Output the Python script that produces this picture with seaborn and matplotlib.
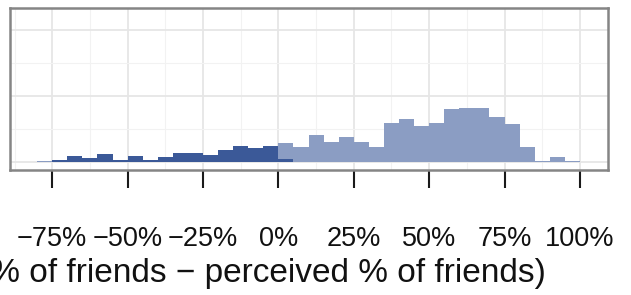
import numpy as np
import pandas as pd
import seaborn as sns
import matplotlib.pyplot as plt
from matplotlib.ticker import MultipleLocator, FixedLocator

# bin edges every 5 percentage points
bin_edges = list(range(-80, 105, 5))

# share of respondents (%) per bin, dark = actual below perceived
dark_bins = list(range(-75, 5, 5))
dark_pct = [0.3, 0.9, 0.6, 1.2, 0.3, 0.95, 0.3, 0.75, 1.35, 1.35, 1.0, 1.75, 2.4, 2.2, 2.4, 0.45]

# light = actual above perceived
light_bins = [-80] + list(range(0, 100, 5))
light_pct = [0.15, 2.4, 2.3, 4.1, 3.1, 3.75, 3.1, 2.3, 5.85, 6.5, 5.5, 5.85,
             8.0, 8.15, 8.15, 6.8, 5.7, 2.3, 0.1, 0.7, 0.15]

tick_vals = [-75, -50, -25, 0, 25, 50, 75, 100]
tick_labels = ['\u221275%', '\u221250%', '\u221225%', '0%', '25%', '50%', '75%', '100%']

df = pd.concat([
    pd.DataFrame({'diff': np.array(dark_bins) + 2.5, 'pct': dark_pct, 'group': 'dark'}),
    pd.DataFrame({'diff': np.array(light_bins) + 2.5, 'pct': light_pct, 'group': 'light'}),
])

sns.set_style('white')
plt.rcParams['font.family'] = ['Liberation Sans', 'DejaVu Sans']

fig = plt.figure(figsize=(6.31, 2.95), dpi=100)
ax = fig.add_axes([10/631, 1-170/295, 598/631, 162/295])

sns.histplot(data=df, x='diff', weights='pct', hue='group', bins=bin_edges,
             multiple='stack', hue_order=['light', 'dark'],
             palette={'dark': '#3b5998', 'light': '#8b9dc3'},
             element='bars', linewidth=0, alpha=1, legend=False, ax=ax)

ax.set_xlim(-89, 109.3)
ax.set_ylim(-1.2, 23.3)

ax.xaxis.set_major_locator(FixedLocator(tick_vals))
ax.set_xticklabels(tick_labels)
ax.xaxis.set_minor_locator(MultipleLocator(12.5))
ax.yaxis.set_major_locator(MultipleLocator(10))
ax.yaxis.set_minor_locator(MultipleLocator(5))
ax.set_yticklabels([])

ax.set_axisbelow(True)
ax.grid(which='major', color='#e6e6e6', linewidth=1.3)
ax.grid(which='minor', color='#f2f2f2', linewidth=0.8)

ax.tick_params(axis='x', which='major', direction='out', length=13, width=1.5,
               color='#1a1a1a', pad=27, labelsize=19.5, labelcolor='#111111', bottom=True)
ax.tick_params(axis='x', which='minor', length=0)
ax.tick_params(axis='y', which='both', length=0)

for s in ax.spines.values():
    s.set_visible(True)
    s.set_color('#858585')
    s.set_linewidth(1.8)

ax.set_xlabel('')
ax.set_ylabel('')
# label is wider than the figure, its left part is cut off as in the original
fig.text(546/631, 1-282/295, '(actual % of friends \u2212 perceived % of friends)',
         ha='right', va='baseline', fontsize=24, color='#111111')

fig.savefig('out.png', dpi=100)
